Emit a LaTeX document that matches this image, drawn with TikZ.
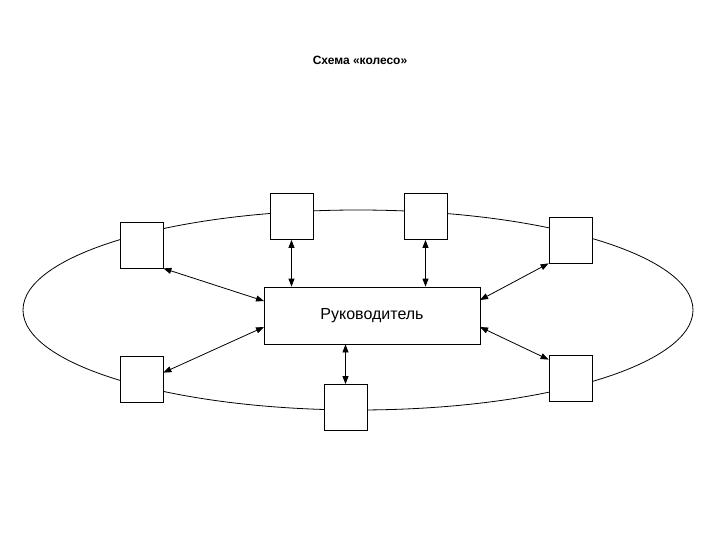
\documentclass[tikz,border=0pt]{standalone}
\usepackage{fontspec}
\setmainfont{Liberation Sans}
\usetikzlibrary{arrows.meta}
\begin{document}
\begin{tikzpicture}[x=1pt,y=-1pt,
  sbox/.style={draw,fill=white,minimum width=43pt,minimum height=46pt,inner sep=0pt,line width=0.8pt},
  lnk/.style={{Triangle[length=8pt,width=6pt]}-{Triangle[length=8pt,width=6pt]},line width=0.8pt}]
\useasboundingbox (0,0) rectangle (720,540);
\node[font=\bfseries\fontsize{12}{14}\selectfont] (t) at (360,60) {Схема «колесо»};
\draw[line width=0.8pt] (358,310) ellipse [x radius=335, y radius=100];
\node[draw,fill=white,minimum width=216pt,minimum height=57pt,inner sep=0pt,line width=0.8pt,font=\fontsize{16}{19}\selectfont] (c) at (372,315.5) {Руководитель};
\node[sbox] (a) at (141.5,245) {};
\node[sbox] (b) at (291.5,216.5) {};
\node[sbox] (cc) at (425.5,216.5) {};
\node[sbox] (d) at (570.5,240) {};
\node[sbox] (e) at (141.5,379) {};
\node[sbox] (f) at (345.5,407.5) {};
\node[sbox] (g) at (570.5,378) {};
\coordinate (ca) at (264,301); \coordinate (ce) at (264,327);
\coordinate (cd) at (480,300); \coordinate (cg) at (480,327);
\draw[lnk] (a.south east) -- (ca);
\draw[lnk] (b.south) -- (b.south |- c.north);
\draw[lnk] (cc.south) -- (cc.south |- c.north);
\draw[lnk] (d.south west) -- (cd);
\draw[lnk] ([yshift=-17pt]e.north east) -- (ce);
\draw[lnk] (f.north) -- (f.north |- c.south);
\draw[lnk] ([yshift=-5pt]g.north west) -- (cg);
\end{tikzpicture}
\end{document}
